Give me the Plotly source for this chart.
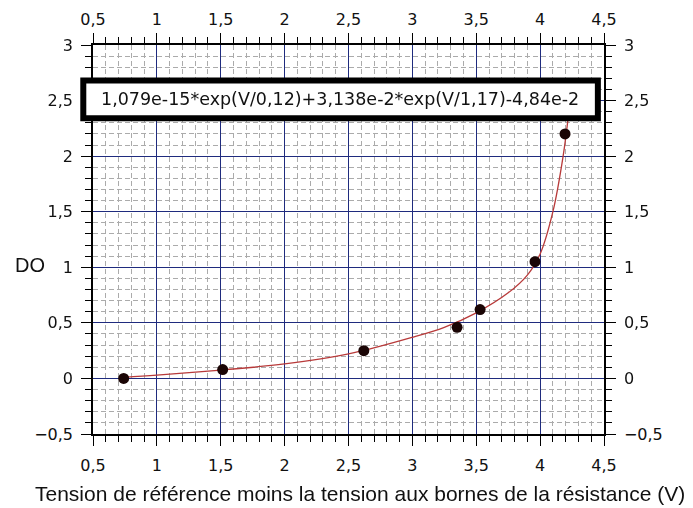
import plotly.graph_objects as go

# mesures
tension = [0.74, 1.515, 2.62, 3.35, 3.53, 3.96, 4.195]
do_mes = [0.0, 0.08, 0.25, 0.46, 0.62, 1.05, 2.2]

# courbe d'ajustement
fit_v = [0.74, 1.0, 1.5, 2.0, 2.5, 3.0, 3.25, 3.5, 3.75, 3.9, 4.0, 4.1, 4.18, 4.23]
fit_do = [0.01, 0.03, 0.075, 0.13, 0.22, 0.37, 0.46, 0.59, 0.77, 0.93, 1.12, 1.5, 2.0, 2.45]

formule = "1,079e-15*exp(V/0,12)+3,138e-2*exp(V/1,17)-4,84e-2"
x_titre = "Tension de référence moins la tension aux bornes de la résistance (V)"
y_titre = "DO"

x_ticks = [0.5, 1, 1.5, 2, 2.5, 3, 3.5, 4, 4.5]
y_ticks = [-0.5, 0, 0.5, 1, 1.5, 2, 2.5, 3]

navy = "#1f2b7e"
tick_font = dict(family="DejaVu Sans", size=16, color="#111")

fig = go.Figure()
fig.add_trace(go.Scatter(x=fit_v, y=fit_do, mode="lines", line=dict(color="#b83a3a", width=1.3, shape="spline"),
                         hoverinfo="skip", showlegend=False))
fig.add_trace(go.Scatter(x=tension, y=do_mes, mode="markers", marker=dict(color="#1a0505", size=11),
                         showlegend=False))
# trace invisible pour les axes du haut et de droite
fig.add_trace(go.Scatter(x=tension, y=do_mes, mode="markers", opacity=0, xaxis="x2", yaxis="y2",
                         hoverinfo="skip", showlegend=False))

common_x = dict(range=[0.5, 4.5], tickvals=x_ticks, ticks="outside", ticklen=10, tickwidth=1.2,
                tickcolor="black", showline=True, linecolor="black", linewidth=1.5,
                tickfont=tick_font, zeroline=False, automargin=False)
common_y = dict(range=[-0.5, 3], tickvals=y_ticks, ticks="outside", ticklen=10, tickwidth=1.2,
                tickcolor="black", showline=True, linecolor="black", linewidth=1.5,
                tickfont=tick_font, zeroline=False, automargin=False)

fig.update_layout(
    width=693, height=508,
    margin=dict(l=85, r=97, t=37, b=82),
    paper_bgcolor="white", plot_bgcolor="white",
    separators=", ",
    xaxis=dict(**common_x, showgrid=True, gridcolor=navy, gridwidth=1.3, ticklabelstandoff=6,
               minor=dict(tick0=0.5, dtick=0.1, ticks="outside", ticklen=6, tickcolor="black",
                          showgrid=True, gridcolor="#ababab", griddash="5px,3px", gridwidth=1)),
    yaxis=dict(**common_y, showgrid=True, gridcolor=navy, gridwidth=1.3, ticklabelstandoff=5,
               minor=dict(tick0=0, dtick=0.1, ticks="outside", ticklen=6, tickcolor="black",
                          showgrid=True, gridcolor="#ababab", griddash="5px,3px", gridwidth=1)),
    xaxis2=dict(**common_x, overlaying="x", side="top", anchor="y2", showgrid=False, ticklabelstandoff=2,
                minor=dict(tick0=0.5, dtick=0.1, ticks="outside", ticklen=6, tickcolor="black", showgrid=False)),
    yaxis2=dict(**common_y, overlaying="y", side="right", anchor="x2", showgrid=False, ticklabelstandoff=5,
                minor=dict(tick0=0, dtick=0.1, ticks="outside", ticklen=6, tickcolor="black", showgrid=False)),
)

# cadre de la formule
fig.add_shape(type="rect", xref="paper", yref="paper", x0=-0.019, x1=0.988, y0=0.812, y1=0.909,
              line=dict(color="black", width=6), fillcolor="white", layer="above")
fig.add_annotation(text=formule, xref="paper", yref="paper", x=0.484, y=0.861, showarrow=False,
                   xanchor="center", yanchor="middle",
                   font=dict(family="DejaVu Sans", size=17.5, color="#111"))
fig.add_annotation(text=y_titre, xref="paper", yref="paper", x=-0.124, y=0.4345, showarrow=False,
                   xanchor="center", yanchor="middle",
                   font=dict(family="Liberation Sans", size=20, color="#111"))
fig.add_annotation(text=x_titre, xref="paper", yref="paper", x=0.522, y=-0.152, showarrow=False,
                   xanchor="center", yanchor="middle",
                   font=dict(family="Liberation Sans", size=21, color="#111"))

fig.write_html("out.html")
